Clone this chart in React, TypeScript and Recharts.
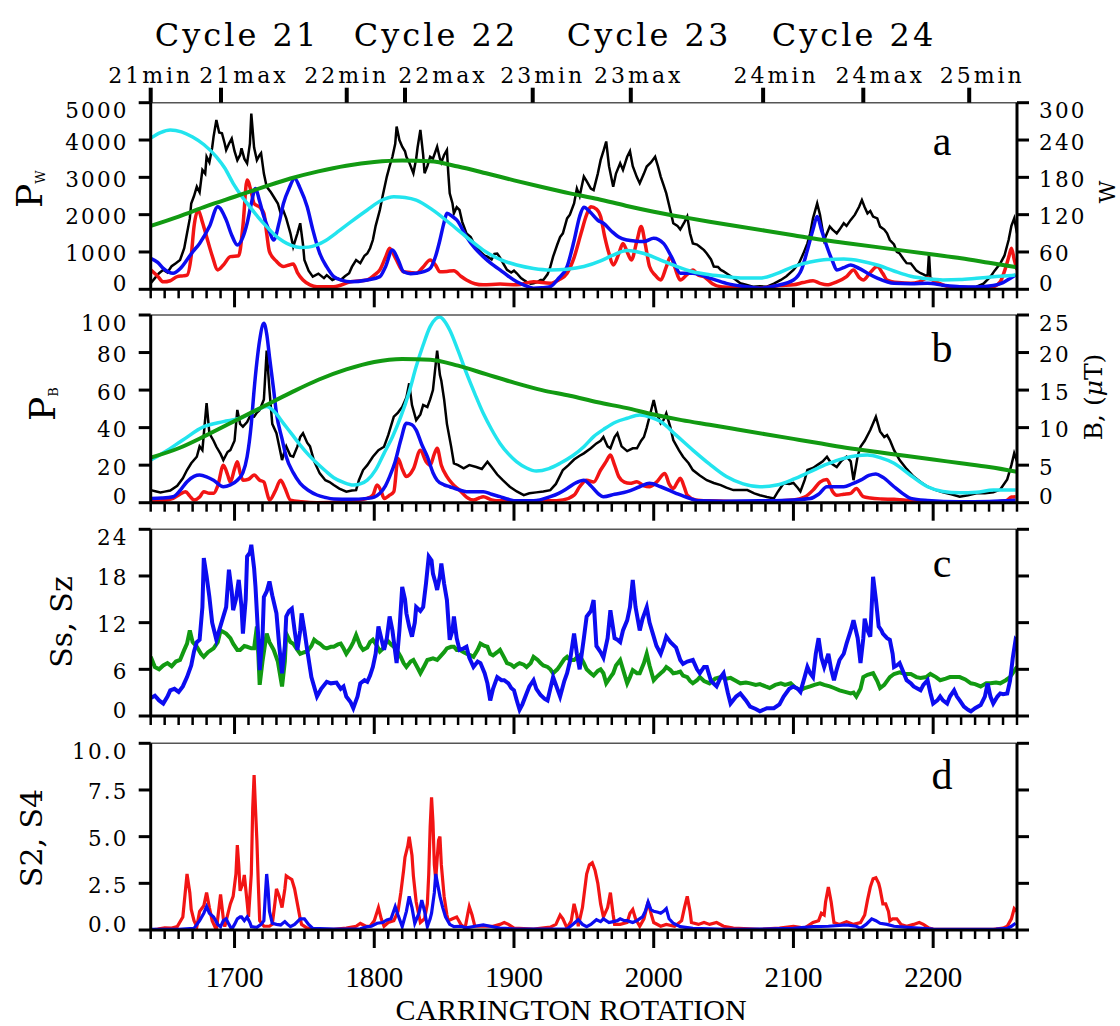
import React from 'react';
import { LineChart, Line, XAxis, YAxis } from 'recharts';

const W = 1120;
const H = 1026;
const PLOT_L = 150.7;
const PLOT_R = 1017;
const CR_MIN = 1640;
const CR_MAX = 2260;

// top axis: cycle minima / maxima (Carrington rotation)
const cycleTicks = [1640, 1690.3, 1780.3, 1822, 1913.4, 1983.6, 2078.3, 2150, 2225.8];
const cycleLabels = ['21min', '21max', '22min', '22max', '23min', '23max', '24min', '24max', '25min'];
const cycleTitles = ['Cycle 21', 'Cycle 22', 'Cycle 23', 'Cycle 24'];

type Pt = [number, number];

// ---- panel a: P_W ----
const greenA: Pt[] = [[1640,1700],[1660,1950],[1680,2230],[1700,2480],[1720,2730],[1740,2970],[1760,3160],[1780,3310],[1800,3410],[1820,3450],[1840,3430],[1860,3290],[1880,3110],[1900,2920],[1920,2740],[1940,2570],[1960,2420],[1980,2240],[2000,2080],[2020,1940],[2040,1810],[2060,1690],[2080,1570],[2100,1450],[2120,1330],[2140,1230],[2160,1130],[2180,1030],[2200,930],[2220,830],[2240,710],[2260,590]];
const cyanA: Pt[] = [[1640,4050],[1647,4200],[1654,4270],[1662,4220],[1670,4080],[1678,3880],[1687,3550],[1693,3250],[1699,2840],[1705,2500],[1711,2210],[1717,1930],[1723,1680],[1729,1450],[1735,1280],[1741,1170],[1747,1120],[1753,1130],[1759,1190],[1765,1300],[1771,1460],[1783,1800],[1795,2125],[1805,2380],[1814,2480],[1822,2460],[1830,2390],[1842,2120],[1854,1770],[1866,1400],[1878,1050],[1890,800],[1902,650],[1914,560],[1926,520],[1938,540],[1950,610],[1962,760],[1970,900],[1981,1040],[1993,960],[2005,785],[2016,620],[2028,470],[2040,390],[2052,340],[2064,305],[2076,300],[2088,420],[2100,610],[2112,730],[2124,800],[2136,810],[2148,760],[2160,650],[2172,490],[2184,350],[2196,280],[2207,250],[2219,260],[2231,295],[2245,340],[2259,380]];
const blueA: Pt[] = [[1640,830],[1645,720],[1649,560],[1656,430],[1661,550],[1666,790],[1670,1000],[1675,1230],[1682,1680],[1688,2210],[1694,1860],[1698,1450],[1702,1190],[1706,1400],[1709,1770],[1712,2300],[1715,2700],[1718,2350],[1721,1950],[1725,1550],[1728,1320],[1732,1800],[1735,2300],[1739,2700],[1743,2970],[1747,2700],[1752,2210],[1756,1600],[1761,960],[1766,600],[1771,340],[1777,240],[1783,200],[1795,250],[1804,340],[1808,600],[1813,1050],[1817,800],[1821,470],[1826,420],[1830,430],[1836,480],[1840,560],[1844,900],[1847,1320],[1850,1800],[1852,2035],[1856,1950],[1859,1860],[1866,1410],[1872,1100],[1878,875],[1884,680],[1890,520],[1896,350],[1902,200],[1908,100],[1914,30],[1920,40],[1926,70],[1932,300],[1938,610],[1943,1300],[1947,1950],[1950,2200],[1955,2050],[1960,1850],[1964,1770],[1970,1550],[1975,1400],[1981,1320],[1987,1290],[1993,1280],[2000,1370],[2007,1230],[2013,850],[2019,430],[2028,430],[2040,300],[2052,160],[2064,80],[2076,30],[2088,100],[2100,250],[2106,550],[2110,1050],[2114,1600],[2117,1950],[2120,1600],[2124,1140],[2128,750],[2131,520],[2136,580],[2141,650],[2147,560],[2153,430],[2160,300],[2172,160],[2184,150],[2196,160],[2207,110],[2219,70],[2231,60],[2243,100],[2250,180],[2255,290],[2259,380]];
const redA: Pt[] = [[1640,520],[1645,350],[1649,200],[1654,230],[1659,340],[1663,360],[1666,380],[1669,900],[1671,1680],[1674,2120],[1677,1800],[1680,1410],[1684,900],[1688,520],[1692,650],[1697,875],[1703,900],[1706,1700],[1709,2930],[1712,2600],[1714,2300],[1718,2200],[1721,2035],[1723,1500],[1725,1010],[1730,750],[1735,610],[1738,640],[1742,680],[1745,450],[1749,250],[1754,120],[1759,70],[1771,70],[1783,200],[1795,250],[1800,380],[1804,520],[1808,850],[1811,1100],[1815,850],[1821,470],[1826,450],[1830,430],[1835,600],[1840,785],[1844,640],[1847,470],[1852,480],[1857,500],[1862,350],[1866,250],[1872,150],[1878,120],[1890,140],[1902,120],[1914,200],[1926,160],[1932,250],[1938,430],[1943,850],[1948,1500],[1952,2000],[1955,2210],[1959,2150],[1962,1950],[1965,1400],[1968,960],[1971,650],[1975,950],[1978,1230],[1981,1000],[1984,785],[1988,1300],[1991,1680],[1994,1200],[1997,610],[2001,380],[2005,250],[2009,600],[2012,875],[2015,600],[2019,250],[2024,400],[2028,520],[2032,380],[2036,340],[2042,150],[2048,70],[2060,50],[2076,30],[2090,100],[2100,120],[2107,180],[2114,230],[2119,160],[2124,120],[2131,200],[2138,340],[2143,520],[2147,320],[2150,250],[2155,450],[2160,610],[2164,420],[2167,250],[2175,180],[2184,160],[2190,200],[2196,300],[2202,200],[2210,80],[2219,30],[2231,40],[2243,70],[2248,200],[2251,480],[2254,850],[2256,1100],[2258,800],[2260,520]];
const blackA: Pt[] = [[1640,160],[1643,300],[1646,430],[1649,520],[1652,450],[1655,620],[1658,700],[1661,785],[1664,1100],[1666,1500],[1668,1900],[1669,2300],[1671,2500],[1673,2750],[1675,2600],[1677,3200],[1679,3100],[1680,3550],[1682,3400],[1684,3800],[1685,4090],[1687,4535],[1689,4200],[1691,4180],[1693,3900],[1694,3730],[1696,3900],[1698,4040],[1700,3700],[1702,3460],[1704,3600],[1705,3780],[1707,3500],[1709,3375],[1711,3900],[1712,4710],[1714,3800],[1716,3460],[1718,3600],[1719,3650],[1721,3100],[1723,2750],[1726,2600],[1728,2480],[1731,2300],[1733,2035],[1735,2100],[1737,1900],[1740,1500],[1742,1140],[1745,1500],[1747,1770],[1749,1200],[1750,785],[1753,500],[1756,340],[1760,420],[1764,300],[1766,380],[1770,250],[1773,300],[1776,250],[1779,350],[1782,430],[1784,600],[1787,785],[1790,700],[1793,900],[1795,960],[1797,1100],[1799,1320],[1801,1700],[1804,2125],[1806,2500],[1809,3020],[1811,3300],[1813,3550],[1815,3900],[1816,4360],[1818,4000],[1820,3820],[1822,3700],[1823,3550],[1825,3400],[1828,3110],[1830,3500],[1831,3800],[1833,4270],[1835,3600],[1836,3110],[1838,3300],[1840,3550],[1842,3500],[1845,3820],[1847,3500],[1848,3400],[1850,3600],[1852,3730],[1853,3100],[1854,2570],[1856,2300],[1857,2035],[1859,2200],[1861,2125],[1863,1800],[1866,1500],[1869,1400],[1871,1250],[1873,1140],[1876,1000],[1879,900],[1881,875],[1884,800],[1886,950],[1888,960],[1890,850],[1893,650],[1895,520],[1898,450],[1900,500],[1902,430],[1905,300],[1907,250],[1909,200],[1912,150],[1914,160],[1917,200],[1919,250],[1921,250],[1924,400],[1926,600],[1928,875],[1931,1200],[1933,1400],[1935,1500],[1938,1900],[1940,2000],[1943,2300],[1945,2700],[1947,2500],[1950,3020],[1952,2900],[1955,2700],[1957,2660],[1960,3100],[1962,3460],[1964,3700],[1966,3960],[1968,3300],[1971,2750],[1973,3100],[1976,3375],[1978,3200],[1981,3550],[1983,3700],[1985,3300],[1988,3000],[1990,2840],[1993,3100],[1995,3290],[1998,3400],[2001,3550],[2003,3300],[2005,3020],[2007,2800],[2009,2570],[2012,2100],[2014,1770],[2017,1700],[2019,1600],[2022,1800],[2024,1950],[2026,1500],[2028,1230],[2031,1200],[2033,1140],[2036,1050],[2038,960],[2041,800],[2043,610],[2046,600],[2048,520],[2050,480],[2052,430],[2057,300],[2062,160],[2066,120],[2071,70],[2076,80],[2081,70],[2086,150],[2091,250],[2095,350],[2100,520],[2104,700],[2107,950],[2110,1230],[2112,1500],[2114,1900],[2117,2300],[2119,2000],[2122,1320],[2124,1500],[2126,1680],[2128,1600],[2131,1500],[2133,1600],[2136,1770],[2138,1700],[2141,1860],[2144,2000],[2147,2210],[2149,2390],[2151,2200],[2153,2035],[2155,2100],[2157,1950],[2160,1900],[2162,1680],[2165,1600],[2167,1500],[2169,1320],[2172,1200],[2174,1000],[2176,960],[2179,800],[2181,700],[2184,690],[2186,600],[2188,500],[2191,430],[2193,400],[2196,340],[2197,960],[2198,300],[2201,250],[2203,160],[2207,100],[2212,80],[2219,70],[2225,60],[2231,70],[2236,150],[2241,340],[2244,500],[2248,690],[2251,900],[2254,1320],[2256,1700],[2258,1900],[2260,1500]];

// ---- panel b: P_B ----
const greenB: Pt[] = [[1640,24],[1660,29],[1680,36],[1700,43.5],[1720,51],[1740,58.5],[1760,65.5],[1780,71],[1800,75],[1820,76.6],[1840,76.2],[1860,73],[1880,68.5],[1900,64],[1920,60],[1940,57],[1960,53.5],[1980,50.5],[2000,47],[2020,44],[2040,41.5],[2060,39],[2080,36.5],[2100,34],[2120,31.5],[2140,29],[2160,27],[2180,25],[2200,23],[2220,21],[2240,19],[2260,16.5]];
const cyanB: Pt[] = [[1640,22.7],[1650,27],[1663,33.4],[1678,40.5],[1692,43.2],[1704,45],[1716,49.4],[1723,51.2],[1729,48],[1735,42.3],[1741,36.5],[1747,30.7],[1753,25.5],[1759,21],[1765,17],[1771,13.3],[1778,10.8],[1785,9.4],[1790,10],[1795,12],[1801,17.5],[1807,26.3],[1813,35],[1819,45.8],[1825,59],[1830,72.5],[1835,84],[1840,93.8],[1844,98],[1847,99],[1850,97],[1854,92],[1860,81],[1866,69],[1872,58],[1878,47.6],[1884,39],[1890,31.6],[1896,26],[1902,21.8],[1909,18.5],[1916,16.9],[1925,18.2],[1933,21],[1942,25],[1950,29.8],[1957,35.2],[1965,39.5],[1973,43],[1981,45],[1990,46.7],[1998,45.5],[2005,43.2],[2016,36],[2028,28],[2040,20.5],[2052,13.9],[2064,10],[2076,8.5],[2088,9.4],[2100,12.5],[2112,16.5],[2124,20.5],[2136,23.6],[2145,25],[2153,25.4],[2162,24],[2172,21],[2184,14.5],[2196,8.5],[2207,6],[2219,5.3],[2231,5.6],[2243,6.7],[2259,6.7]];
const blueB: Pt[] = [[1640,2.3],[1648,2.5],[1656,3.2],[1661,6.5],[1666,11.2],[1671,14],[1675,14.7],[1680,13.8],[1685,12],[1692,8.5],[1697,9.5],[1702,12],[1706,16],[1709,24.5],[1712,42],[1714,60],[1716,75],[1718,86.7],[1721,95.6],[1723,90],[1725,77.8],[1728,60],[1730,47.6],[1734,34],[1737,24.5],[1742,16],[1747,10.3],[1753,6.5],[1759,4.1],[1765,2.8],[1771,2],[1783,1.8],[1795,2.3],[1800,3],[1804,5],[1808,9],[1811,13.9],[1815,22],[1819,33.4],[1823,42.3],[1827,41.5],[1830,38.7],[1834,31],[1838,24.5],[1842,16],[1845,12],[1850,9.5],[1854,8.5],[1860,7],[1866,5.9],[1878,5.9],[1884,4.5],[1890,3.2],[1896,1.8],[1902,1],[1914,1],[1926,3.2],[1932,5],[1938,7.6],[1944,10.5],[1950,12],[1955,9],[1960,5],[1964,3.2],[1972,4.5],[1981,5.9],[1990,8.5],[1997,10.3],[2005,8.5],[2016,5],[2025,2.5],[2033,1],[2050,0.8],[2076,1],[2100,1.5],[2112,2.2],[2118,4.5],[2124,8.5],[2130,8.5],[2136,8.5],[2142,10],[2148,12],[2154,14.5],[2159,15.3],[2164,13.5],[2172,8.5],[2178,5],[2184,2.3],[2196,1.2],[2219,0.5],[2240,0.7],[2259,1.3]];
const redB: Pt[] = [[1640,0.5],[1648,1],[1656,2.3],[1661,4.5],[1665,5.9],[1668,3.5],[1671,1.4],[1675,3],[1678,5.9],[1682,5],[1685,5],[1688,9],[1692,20],[1695,15],[1697,11],[1700,18],[1702,21.8],[1704,16],[1706,12],[1710,12.5],[1714,14.7],[1718,12],[1721,11],[1723,6],[1725,1.4],[1729,6],[1733,12],[1736,8],[1740,1.4],[1748,0.5],[1759,0],[1780,0.5],[1795,2.3],[1799,4],[1802,9.4],[1805,6],[1807,2.3],[1811,4],[1814,5.9],[1817,23.6],[1820,18],[1823,13.9],[1828,18],[1833,28],[1837,22],[1840,20],[1843,26],[1845,29],[1848,20],[1852,13.9],[1856,10],[1861,6.7],[1866,3],[1871,1.4],[1875,2.5],[1878,3.2],[1884,1.5],[1890,1],[1910,1],[1926,1],[1935,1.5],[1943,4],[1947,8.5],[1952,12],[1957,11],[1962,17.4],[1966,22],[1969,25.4],[1972,20],[1975,13.9],[1979,11],[1983,10.3],[1988,11.2],[1993,9],[1997,8.5],[2002,11],[2008,15.6],[2011,10],[2014,7.6],[2017,11],[2019,13],[2022,8],[2024,4],[2030,1.5],[2040,1],[2070,0.5],[2100,1.4],[2108,3],[2114,6.7],[2119,11],[2124,12.4],[2128,6],[2131,4],[2136,4.5],[2141,5],[2145,7.6],[2150,3.2],[2155,2.5],[2163,2],[2172,1.8],[2184,1],[2196,0],[2240,0.3],[2252,1],[2256,3],[2259,3.2]];
const blackB: Pt[] = [[1640,6.7],[1644,6],[1647,5.5],[1650,5.9],[1654,6.5],[1659,9],[1663,13],[1666,17.4],[1669,21],[1673,24.5],[1675,30],[1677,28],[1680,53],[1682,37],[1685,33],[1687,29.8],[1690,26],[1692,22.7],[1695,27],[1697,28],[1700,33],[1702,49.4],[1704,42],[1706,40.5],[1709,43],[1711,46],[1714,45.8],[1716,48],[1718,49.4],[1721,55],[1723,81],[1725,60],[1727,42],[1730,37],[1732,30],[1734,22.7],[1736,28],[1737,30],[1740,25],[1742,24.5],[1745,30],[1747,35],[1749,37],[1752,32],[1754,30],[1757,22],[1761,15.6],[1765,12],[1768,11],[1771,9.4],[1775,7.5],[1780,5.9],[1784,6.5],[1787,6.7],[1789,12],[1792,17.4],[1795,20],[1799,24.5],[1803,28],[1807,29.8],[1810,36],[1814,45.8],[1817,48],[1820,51],[1823,56],[1825,63.6],[1827,52],[1830,44],[1833,47],[1835,52],[1838,51],[1840,55],[1842,60],[1845,81],[1847,68],[1848,65],[1850,55],[1852,42],[1855,30],[1857,21],[1860,20],[1864,18.3],[1868,20],[1873,19],[1877,18],[1881,21.8],[1884,19],[1888,15],[1892,12],[1897,8.5],[1902,6],[1907,4],[1911,5],[1916,5.5],[1921,6],[1926,6.7],[1930,10],[1935,17.4],[1939,20],[1943,23],[1947,25],[1950,26.3],[1955,29],[1959,31.6],[1962,33],[1964,35],[1967,30],[1969,29],[1972,35],[1974,37],[1977,30],[1981,27.5],[1985,29],[1988,29],[1991,33],[1993,35],[1995,40],[1997,45.8],[2000,54.7],[2002,48],[2005,42.3],[2007,44],[2009,47.6],[2012,40],[2014,33.4],[2018,28],[2021,24.5],[2025,21],[2028,17.4],[2033,14.5],[2038,12],[2043,10.5],[2048,9.4],[2052,8],[2057,6.7],[2062,6.7],[2067,6.7],[2072,5],[2076,4],[2081,3],[2086,2.3],[2089,6],[2093,10.3],[2097,10],[2100,10.5],[2103,8],[2105,6],[2108,12],[2110,17.4],[2114,18.5],[2117,20],[2121,22],[2124,24.5],[2127,21],[2131,19],[2134,22],[2138,24.5],[2141,22],[2143,12],[2146,25],[2148,29.8],[2151,33],[2155,38.7],[2159,45.8],[2162,38],[2165,35],[2167,36],[2169,33.4],[2172,28],[2176,22.7],[2181,18],[2186,13.9],[2191,11],[2196,8.5],[2201,7],[2207,5.5],[2213,4.5],[2219,3.2],[2225,4],[2231,5],[2237,5],[2243,5.5],[2248,7],[2253,12.4],[2256,20],[2258,26.3],[2260,22]];

// ---- panel c: Ss, Sz ----
const blueC: Pt[] = [[1640,2.3],[1643,2.6],[1646,2],[1649,1.6],[1652,2.5],[1654,3.3],[1657,3.5],[1660,3.1],[1663,3.8],[1666,5],[1669,6.5],[1671,8.3],[1673,9.5],[1675,9.8],[1677,14],[1678,20.3],[1680,18],[1682,15.3],[1684,12],[1687,9.8],[1689,11],[1692,12.8],[1694,14],[1696,18.8],[1698,16],[1699,13.6],[1701,15],[1703,17.5],[1705,14],[1706,10.6],[1708,15],[1709,20.5],[1711,21],[1712,22],[1714,19],[1715,16.6],[1717,10],[1718,5.9],[1720,10],[1721,15.3],[1723,16],[1725,17.3],[1727,15.5],[1730,13.2],[1732,9],[1734,5.5],[1736,9],[1737,12.8],[1739,13.5],[1741,13.8],[1743,11],[1745,8.5],[1747,11],[1748,13.2],[1750,11],[1752,8.5],[1755,5],[1759,2.5],[1762,3.5],[1766,4.4],[1769,4.2],[1773,4.3],[1776,3.5],[1778,3.8],[1780,2.5],[1783,1.8],[1785,1],[1788,2.5],[1790,4.2],[1793,4.6],[1795,4.4],[1797,5.2],[1799,6.3],[1801,8],[1803,11.5],[1805,10],[1807,8.5],[1809,10],[1811,12.8],[1813,11],[1816,6.8],[1818,11],[1820,16.6],[1822,15],[1823,13.2],[1825,11.5],[1827,10.2],[1829,12],[1830,14],[1833,13.5],[1835,14],[1837,17],[1839,20.5],[1841,20],[1842,18.3],[1844,17],[1845,16.2],[1847,18],[1848,19.6],[1850,17],[1852,14.9],[1854,9.8],[1856,11],[1857,12.8],[1859,10],[1861,8.5],[1864,8.7],[1866,8.9],[1868,7.5],[1871,6.3],[1874,7],[1876,6.8],[1879,5.5],[1881,4.2],[1883,2],[1885,3.5],[1888,5],[1891,4.6],[1893,4.6],[1896,4.2],[1898,3.6],[1900,3.3],[1902,2],[1904,0.8],[1906,1.5],[1909,2.9],[1911,3.8],[1914,4.6],[1916,3.5],[1919,2.7],[1922,2.2],[1924,2],[1926,3.5],[1928,5],[1931,3.5],[1933,2.5],[1936,4.5],[1938,5.5],[1940,7],[1943,10.6],[1945,8],[1947,6],[1950,10],[1952,12.8],[1955,13.5],[1957,14.9],[1959,9],[1962,8.2],[1964,7.5],[1967,10],[1969,13.6],[1972,10],[1974,9.8],[1976,9.5],[1978,11],[1981,12.3],[1983,14],[1985,17.5],[1987,14],[1990,11],[1992,12.5],[1995,14],[1997,12],[2000,10.2],[2002,9],[2005,8],[2007,9],[2009,10.2],[2012,9.5],[2016,8.8],[2019,7.2],[2021,6.7],[2024,7],[2028,7.2],[2031,6],[2033,5.5],[2036,6.3],[2038,6.3],[2041,4.5],[2045,3.8],[2048,5],[2050,5.5],[2053,3],[2055,1.6],[2059,2.5],[2062,2.9],[2066,2],[2069,1.2],[2073,0.9],[2076,0.6],[2081,1],[2086,1],[2090,1.5],[2093,2.5],[2097,3.5],[2100,3.8],[2103,3.5],[2105,3.1],[2108,5],[2110,6.3],[2112,5.5],[2114,5],[2116,8],[2118,10],[2120,7.5],[2122,6.3],[2125,8],[2127,6],[2129,4.6],[2131,6],[2133,7.2],[2136,8],[2138,9.3],[2141,11],[2143,12.3],[2146,10],[2148,6.8],[2150,10],[2151,12.5],[2153,11],[2155,10.2],[2156,14],[2157,17.9],[2159,15],[2161,11.5],[2163,11],[2164,10.6],[2167,10],[2169,9.8],[2171,8],[2172,6.3],[2174,6.5],[2176,6.8],[2179,5.5],[2181,4.6],[2184,4.2],[2186,3.8],[2189,3.5],[2191,3.3],[2193,4],[2196,4.6],[2198,3],[2200,1.6],[2203,2],[2205,2.5],[2207,2],[2210,1.6],[2212,2.5],[2215,3.3],[2217,2.5],[2219,2],[2222,1.2],[2225,0.8],[2227,0.6],[2230,1],[2234,1.4],[2237,2.5],[2239,4.2],[2241,2.5],[2243,1.6],[2246,2.5],[2248,2.9],[2250,2.8],[2253,2.9],[2255,4.5],[2257,7.5],[2259,9.8],[2260,9.6]];
const greenC: Pt[] = [[1640,7.6],[1643,6.3],[1646,6],[1649,6.5],[1652,6.8],[1655,6.4],[1658,7],[1661,7.2],[1664,8.5],[1666,9.3],[1668,11],[1670,9.5],[1673,8.9],[1676,8],[1678,7.6],[1681,8.2],[1685,8.7],[1688,9.5],[1690,11],[1692,10.8],[1694,10.6],[1697,10],[1699,9.3],[1702,8.5],[1704,8.5],[1707,9],[1709,8.9],[1712,8.7],[1714,8.7],[1716,11.5],[1717,8],[1718,4],[1720,7],[1723,10.6],[1725,9.5],[1728,8.5],[1731,7],[1734,3.8],[1736,7],[1737,10.6],[1740,9.5],[1742,9.3],[1745,8.5],[1747,8],[1750,8.2],[1752,8.3],[1755,9],[1757,9.8],[1759,9.5],[1761,9.3],[1764,8.8],[1766,8.7],[1769,8.9],[1771,8.9],[1774,9.2],[1776,9.3],[1778,8.7],[1780,8],[1783,8.8],[1785,9.5],[1787,10.4],[1790,9],[1792,8.5],[1795,8.8],[1797,9.5],[1799,9.8],[1802,9],[1804,8.3],[1807,8.8],[1809,9.8],[1812,9.2],[1814,8.9],[1817,8.2],[1819,7.6],[1821,6.8],[1823,6.3],[1826,7],[1828,7.2],[1831,6.2],[1833,5.5],[1836,6.5],[1838,7.2],[1840,7.3],[1842,7.4],[1845,7.2],[1847,7.6],[1850,8.2],[1852,8.7],[1855,8.9],[1857,8.9],[1859,8.5],[1861,8.5],[1864,8.2],[1866,8],[1869,7.8],[1871,7.6],[1874,8.5],[1876,9.3],[1879,9],[1881,8.9],[1883,8],[1885,7.8],[1888,8.2],[1890,8.5],[1893,7.5],[1895,6.8],[1898,6.6],[1900,6.3],[1902,6.6],[1904,6.8],[1907,6.6],[1909,6.3],[1912,6.8],[1914,7.6],[1917,7.2],[1919,6.8],[1921,6.5],[1924,6.3],[1926,6],[1928,5.5],[1931,6],[1933,6.5],[1936,7.3],[1938,7.6],[1940,7.2],[1943,7.2],[1945,7.5],[1947,7.8],[1950,6.8],[1952,6],[1955,5.5],[1957,5.2],[1960,5.8],[1962,6],[1964,5.5],[1966,4.2],[1969,5],[1971,5.5],[1973,6.5],[1976,7.2],[1978,6],[1981,4.2],[1983,5],[1985,5.9],[1988,5.5],[1990,5.5],[1993,6.8],[1995,8],[1997,6.5],[2000,4.6],[2002,5],[2005,5.5],[2007,5.8],[2009,6.3],[2012,5.9],[2014,5.5],[2017,5.6],[2019,5.7],[2021,5.2],[2024,5],[2026,4.5],[2028,4.2],[2031,4.6],[2033,5],[2036,4.5],[2040,4.2],[2044,4.8],[2048,5],[2052,4.8],[2055,4.9],[2059,4.5],[2062,4.2],[2066,4.3],[2069,4.2],[2073,4],[2076,4.1],[2080,3.8],[2083,3.6],[2087,4],[2091,4.2],[2094,4],[2098,4.2],[2101,3.7],[2105,3.3],[2108,3.6],[2112,3.8],[2115,4],[2119,4.2],[2122,4],[2126,3.8],[2129,3.6],[2133,3.3],[2137,3.1],[2141,2.9],[2143,3],[2145,2.5],[2148,3.5],[2150,5],[2153,5.3],[2157,5.5],[2160,4.5],[2162,3.6],[2165,4],[2169,5],[2172,5.4],[2176,5.6],[2180,5.4],[2184,5.4],[2188,5],[2191,4.9],[2195,5],[2198,5.4],[2202,5],[2205,4.6],[2209,4.8],[2212,5],[2216,5],[2219,5],[2223,4.7],[2227,4.2],[2230,4.1],[2234,3.8],[2238,4.2],[2241,4.2],[2245,4.3],[2248,4.2],[2252,4.6],[2255,5],[2258,5.8],[2260,6.3]];

// ---- panel d: S2, S4 ----
const redD: Pt[] = [[1640,0],[1645,0.05],[1650,0.12],[1655,0.1],[1659,0.18],[1663,0.7],[1666,3.0],[1668,2.0],[1669,1.1],[1671,0.5],[1673,0.18],[1675,1.0],[1678,1.3],[1680,2.0],[1682,1.2],[1684,0.5],[1687,0],[1690,1.9],[1692,0.6],[1693,0.18],[1695,0.8],[1697,1.4],[1699,1.8],[1701,3.0],[1702,4.55],[1703,3.5],[1704,2.1],[1706,2.5],[1707,2.95],[1709,1.5],[1710,0.7],[1712,3.0],[1713,6.5],[1714,8.3],[1715,6.5],[1716,4.8],[1717,2.5],[1718,0.5],[1721,0.2],[1725,0.2],[1727,0.3],[1729,1.5],[1730,2.2],[1732,1.8],[1734,1.2],[1736,2.2],[1737,2.9],[1739,2.8],[1741,2.7],[1743,2.2],[1745,1.4],[1747,0.6],[1748,0.3],[1752,0.1],[1759,0.05],[1771,0.04],[1780,0.1],[1787,0.2],[1790,0.35],[1794,0.2],[1797,0.2],[1800,0.5],[1803,1.2],[1805,0.6],[1807,0.2],[1810,0.4],[1814,0.5],[1817,1.0],[1819,2.0],[1821,3.2],[1822,3.9],[1824,4.5],[1825,5.0],[1827,4.0],[1828,2.9],[1830,1.5],[1833,0.4],[1836,0.6],[1838,1.4],[1839,3.0],[1840,5.5],[1841,7.1],[1842,5.8],[1843,3.5],[1844,2.7],[1845,3.8],[1846,4.8],[1847,5.0],[1848,3.5],[1850,1.8],[1852,0.8],[1853,0.5],[1856,0.6],[1859,0.7],[1862,0.3],[1865,0.1],[1867,0.9],[1868,1.25],[1870,0.8],[1872,0.2],[1878,0.2],[1885,0.2],[1890,0.3],[1893,0.4],[1896,0.3],[1900,0.1],[1914,0.05],[1926,0.15],[1930,0.3],[1933,0.8],[1935,0.6],[1938,0.1],[1941,0.5],[1943,1.4],[1945,0.8],[1946,0.2],[1949,1.2],[1952,3.0],[1954,3.5],[1956,3.6],[1958,3.2],[1960,2.5],[1962,1.4],[1964,0.7],[1967,1.2],[1969,2.0],[1971,0.8],[1972,0.3],[1976,0.3],[1981,0.4],[1983,0.9],[1985,1.1],[1987,0.6],[1990,0.2],[1993,0.6],[1996,1.5],[1998,0.9],[2000,0.4],[2005,0.2],[2009,0.3],[2015,0.2],[2020,0.5],[2022,1.2],[2024,1.8],[2026,1.0],[2027,0.4],[2032,0.3],[2036,0.4],[2040,0.3],[2045,0.4],[2050,0.2],[2057,0.1],[2076,0.04],[2090,0.1],[2100,0.2],[2108,0.1],[2114,0.4],[2118,0.5],[2120,0.9],[2122,0.8],[2123,1.5],[2125,2.3],[2127,1.5],[2129,0.4],[2133,0.3],[2138,0.45],[2143,0.3],[2148,0.4],[2151,0.8],[2153,1.6],[2155,2.3],[2157,2.75],[2159,2.8],[2161,2.5],[2162,2.2],[2164,1.4],[2166,1.4],[2168,1.0],[2169,0.5],[2171,0.6],[2174,0.6],[2177,0.3],[2181,0.2],[2186,0.3],[2190,0.4],[2193,0.3],[2197,0.1],[2200,0.05],[2243,0.04],[2250,0.1],[2253,0.2],[2256,0.6],[2258,1.15],[2260,1.0]];
const blueD: Pt[] = [[1640,0.03],[1660,0.03],[1671,0.09],[1675,0.5],[1678,0.9],[1680,1.25],[1682,0.9],[1685,0.7],[1688,0.3],[1690,0.18],[1692,0.5],[1694,0.6],[1696,0.3],[1698,0.04],[1700,0.3],[1702,0.6],[1704,0.7],[1705,0.7],[1707,0.5],[1709,0.7],[1711,0.4],[1712,0.18],[1716,0.14],[1719,0.3],[1721,0.5],[1722,1.8],[1723,3.0],[1724,2.2],[1725,1.0],[1727,0.36],[1730,0.3],[1733,0.27],[1736,0.45],[1738,0.3],[1740,0.18],[1743,0.3],[1747,0.6],[1750,0.6],[1753,0.3],[1756,0.09],[1771,0.05],[1790,0.06],[1795,0.18],[1798,0.2],[1802,0.36],[1806,0.4],[1809,0.54],[1812,0.6],[1815,1.25],[1817,0.8],[1820,0.18],[1823,1.0],[1825,1.8],[1827,1.2],[1829,0.36],[1832,0.9],[1834,1.6],[1836,1.0],[1838,0.18],[1840,0.6],[1841,0.9],[1843,2.0],[1844,3.0],[1845,2.6],[1847,1.8],[1849,1.2],[1851,0.7],[1854,0.3],[1857,0.18],[1862,0.2],[1866,0.12],[1872,0.2],[1878,0.27],[1883,0.2],[1890,0.1],[1902,0.05],[1938,0.05],[1942,0.3],[1946,0.55],[1949,0.3],[1952,0.18],[1955,0.3],[1959,0.55],[1962,0.45],[1964,0.6],[1968,0.4],[1971,0.45],[1974,0.5],[1976,0.6],[1979,0.5],[1981,0.5],[1985,0.4],[1988,0.5],[1992,0.7],[1994,1.0],[1996,1.5],[1998,1.1],[2000,1.0],[2003,0.95],[2005,0.9],[2007,1.0],[2009,1.15],[2011,0.6],[2014,0.36],[2019,0.18],[2028,0.09],[2052,0.04],[2076,0.05],[2100,0.09],[2114,0.18],[2125,0.2],[2138,0.27],[2145,0.2],[2148,0.09],[2152,0.3],[2156,0.6],[2159,0.5],[2162,0.36],[2167,0.3],[2172,0.2],[2184,0.13],[2200,0.05],[2219,0.03],[2245,0.05],[2253,0.09],[2256,0.2],[2259,0.36]];

const BLACK = '#000000';
const RED = '#f21414';
const BLUE = '#0c0cf0';
const CYAN = '#22e4ee';
const GREEN = '#129a12';

const pts = (arr: Pt[]) => arr.map(([cr, v]) => ({ cr, v }));

const crTicks: number[] = [];
for (let c = CR_MIN; c <= CR_MAX; c += 10) crTicks.push(c);

// nudges of the top labels relative to their ticks, as in the original
const cycleShift = [0, 23, 0, 38, 10, 8, 13, 17, 13];

const numFont = { fontFamily: 'DejaVu Serif', fontSize: 21.5, letterSpacing: 2.2, fill: '#000' };

const bottomTick = (labels: boolean) => (p: any) => {
  const v = p.payload.value;
  const major = Math.round(v) % 100 === 0;
  return (
    <g>
      <line x1={p.x} x2={p.x} y1={p.y} y2={p.y + (major ? 18 : 9)} stroke={BLACK} strokeWidth={major ? 3 : 2.5} />
      {labels && major && (
        <text x={p.x} y={p.y + 57} textAnchor="middle" fontFamily="Liberation Serif" fontSize={29} fill={BLACK}>
          {v}
        </text>
      )}
    </g>
  );
};

const cycleTick = (p: any) => {
  const i = cycleTicks.indexOf(p.payload.value);
  return (
    <g>
      <line x1={p.x} x2={p.x} y1={p.y} y2={p.y - 15} stroke={BLACK} strokeWidth={4} />
      <text x={p.x + (cycleShift[i] || 0)} y={p.y - 20} textAnchor="middle" fontFamily="DejaVu Serif" fontSize={22} letterSpacing={3} fill={BLACK}>
        {cycleLabels[i]}
      </text>
    </g>
  );
};

const noTick = () => <g />;

const sideTick = (side: 'left' | 'right', fmt: ((v: number) => string) | null, top: number) => (p: any) => {
  const v = p.payload.value;
  const dy = v === 0 ? -6 : v === top ? 8 : 2;
  const s = side === 'left' ? -1 : 1;
  return (
    <g>
      <line x1={p.x} x2={p.x + s * 12} y1={p.y} y2={p.y} stroke={BLACK} strokeWidth={3} />
      {fmt && (
        <text x={p.x + s * 22} y={p.y + dy} textAnchor={side === 'left' ? 'end' : 'start'} dominantBaseline="central" {...numFont}>
          {fmt(v)}
        </text>
      )}
    </g>
  );
};

interface Series {
  data: Pt[];
  color: string;
  width: number;
  smooth?: boolean;
}

interface PanelProps {
  top: number;
  bottom: number;
  yMax: number;
  yTicks: number[];
  yFmt: (v: number) => string;
  rMax: number;
  rTicks: number[];
  rFmt: ((v: number) => string) | null;
  series: Series[];
  cycles?: boolean;
  xLabels?: boolean;
}

// every axis reserves 1px, so the margins are shrunk by 1px to keep the plot box in place
const Panel = ({ top, bottom, yMax, yTicks, yFmt, rMax, rTicks, rFmt, series, cycles, xLabels }: PanelProps) => (
  <div style={{ position: 'absolute', left: 0, top: 0 }}>
    <LineChart
      width={W}
      height={H}
      margin={{ top: top - 1, bottom: H - bottom - 1, left: PLOT_L - 1, right: W - PLOT_R - 1 }}
    >
      <XAxis
        dataKey="cr"
        type="number"
        domain={[CR_MIN, CR_MAX]}
        allowDataOverflow
        ticks={crTicks}
        interval={0}
        height={1}
        tickSize={0}
        tickMargin={0}
        tickLine={false}
        axisLine={{ stroke: BLACK, strokeWidth: 3 }}
        tick={bottomTick(!!xLabels)}
      />
      <XAxis
        xAxisId="top"
        orientation="top"
        dataKey="cr"
        type="number"
        domain={[CR_MIN, CR_MAX]}
        allowDataOverflow
        ticks={cycles ? cycleTicks : [CR_MIN]}
        interval={0}
        height={1}
        tickSize={0}
        tickMargin={0}
        tickLine={false}
        axisLine={{ stroke: '#555', strokeWidth: 1.4 }}
        tick={cycles ? cycleTick : noTick}
      />
      <YAxis
        type="number"
        domain={[0, yMax]}
        allowDataOverflow
        ticks={yTicks}
        interval={0}
        width={1}
        tickSize={0}
        tickMargin={0}
        tickLine={false}
        axisLine={{ stroke: BLACK, strokeWidth: 3 }}
        tick={sideTick('left', yFmt, yMax)}
      />
      <YAxis
        yAxisId="r"
        orientation="right"
        type="number"
        domain={[0, rMax]}
        allowDataOverflow
        ticks={rTicks}
        interval={0}
        width={1}
        tickSize={0}
        tickMargin={0}
        tickLine={false}
        axisLine={{ stroke: BLACK, strokeWidth: 3 }}
        tick={sideTick('right', rFmt, rMax)}
      />
      {series.map((s, i) => (
        <Line
          key={i}
          data={pts(s.data)}
          dataKey="v"
          type={s.smooth ? 'monotone' : 'linear'}
          stroke={s.color}
          strokeWidth={s.width}
          dot={false}
          activeDot={false}
          isAnimationActive={false}
        />
      ))}
    </LineChart>
  </div>
);

const serif = { fontFamily: 'DejaVu Serif', fill: '#000' };

export default function App() {
  return (
    <div style={{ position: 'absolute', left: 0, top: 0, width: W, height: H, background: '#fff' }}>
      <Panel
        top={102.7}
        bottom={289.3}
        yMax={5000}
        yTicks={[0, 1000, 2000, 3000, 4000, 5000]}
        yFmt={(v) => String(v)}
        rMax={300}
        rTicks={[0, 60, 120, 180, 240, 300]}
        rFmt={(v) => String(v)}
        cycles
        series={[
          { data: blackA, color: BLACK, width: 2.5 },
          { data: redA, color: RED, width: 3.5, smooth: true },
          { data: blueA, color: BLUE, width: 3.5, smooth: true },
          { data: cyanA, color: CYAN, width: 3.5, smooth: true },
          { data: greenA, color: GREEN, width: 4, smooth: true },
        ]}
      />
      <Panel
        top={315}
        bottom={502.7}
        yMax={100}
        yTicks={[0, 20, 40, 60, 80, 100]}
        yFmt={(v) => String(v)}
        rMax={25}
        rTicks={[0, 5, 10, 15, 20, 25]}
        rFmt={(v) => String(v)}
        series={[
          { data: blackB, color: BLACK, width: 2.5 },
          { data: redB, color: RED, width: 3.5, smooth: true },
          { data: blueB, color: BLUE, width: 3.5, smooth: true },
          { data: cyanB, color: CYAN, width: 3.5, smooth: true },
          { data: greenB, color: GREEN, width: 4, smooth: true },
        ]}
      />
      <Panel
        top={529.3}
        bottom={716}
        yMax={24}
        yTicks={[0, 6, 12, 18, 24]}
        yFmt={(v) => String(v)}
        rMax={24}
        rTicks={[0, 6, 12, 18, 24]}
        rFmt={null}
        series={[
          { data: greenC, color: GREEN, width: 4 },
          { data: blueC, color: BLUE, width: 4 },
        ]}
      />
      <Panel
        top={743.3}
        bottom={930}
        yMax={10}
        yTicks={[0, 2.5, 5, 7.5, 10]}
        yFmt={(v) => v.toFixed(1)}
        rMax={10}
        rTicks={[0, 2.5, 5, 7.5, 10]}
        rFmt={null}
        xLabels
        series={[
          { data: redD, color: RED, width: 3.2 },
          { data: blueD, color: BLUE, width: 3.2 },
        ]}
      />
      <svg width={W} height={H} style={{ position: 'absolute', left: 0, top: 0, pointerEvents: 'none' }}>
        {cycleTitles.map((t, i) => (
          <text key={t} x={[237, 436, 649, 854][i]} y={46} textAnchor="middle" fontSize={32} letterSpacing={3} {...serif}>
            {t}
          </text>
        ))}
        <text transform="translate(42,208) rotate(-90)" fontSize={36} {...serif}>
          P<tspan fontSize={13} dy={3}>W</tspan>
        </text>
        <text transform="translate(55,421) rotate(-90)" fontSize={36} {...serif}>
          P<tspan fontSize={13} dy={3}>B</tspan>
        </text>
        <text transform="translate(72,622) rotate(-90)" textAnchor="middle" fontSize={30} {...serif}>
          Ss, Sz
        </text>
        <text transform="translate(42,838) rotate(-90)" textAnchor="middle" fontSize={30} {...serif}>
          S2, S4
        </text>
        <text transform="translate(1115,192) rotate(-90)" textAnchor="middle" fontSize={22} {...serif}>
          W
        </text>
        <text transform="translate(1102,397) rotate(-90)" textAnchor="middle" fontSize={25} {...serif}>
          B, (<tspan fontStyle="italic">μ</tspan>T)
        </text>
        {['a', 'b', 'c', 'd'].map((l, i) => (
          <text key={l} x={942} y={[155, 362, 577, 789][i]} textAnchor="middle" fontFamily="Liberation Serif" fontSize={42} fill="#000">
            {l}
          </text>
        ))}
        <text x={571} y={1020} textAnchor="middle" fontFamily="Liberation Serif" fontSize={30} fill="#000">
          CARRINGTON ROTATION
        </text>
      </svg>
    </div>
  );
}
